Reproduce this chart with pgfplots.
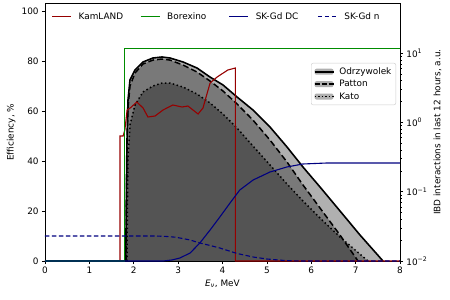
\documentclass[border=0pt]{standalone}
\usepackage{pgfplots}
\pgfplotsset{compat=1.18}
\usepackage{fontspec}
\setmainfont{DejaVu Sans}

\definecolor{kam}{RGB}{150,0,0}
\definecolor{bor}{RGB}{0,140,0}
\definecolor{skg}{RGB}{0,0,128}

\pgfplotstableread{
x y
1.820 0.01
1.836 0.148
1.848 0.557
1.870 2.10
1.915 4.09
2.028 5.70
2.208 7.45
2.434 8.50
2.637 8.79
2.817 8.50
3.110 7.45
3.425 6.10
3.718 4.52
4.011 3.47
4.327 2.33
4.687 1.51
5.070 0.859
5.454 0.442
5.814 0.227
6.197 0.117
6.648 0.0527
7.099 0.0237
7.617 0.01
}\odr

\pgfplotstableread{
x y
1.825 0.01
1.848 0.400
1.870 1.61
1.915 3.35
2.028 5.16
2.208 6.97
2.434 7.94
2.637 8.22
2.817 7.94
3.110 6.73
3.425 5.34
3.718 3.96
4.011 2.84
4.327 1.85
4.687 1.08
5.070 0.557
5.454 0.268
5.814 0.125
6.197 0.0582
6.648 0.0237
7.054 0.01
}\pat

\pgfplotstableread{
x y
1.848 0.01
1.859 0.0759
1.870 0.286
1.915 0.917
2.028 1.78
2.208 2.75
2.434 3.35
2.637 3.70
2.817 3.70
3.110 3.24
3.425 2.57
3.718 1.91
4.011 1.32
4.327 0.830
4.687 0.456
5.070 0.243
5.454 0.129
5.814 0.0734
6.197 0.0417
6.648 0.0222
7.279 0.01
}\kato

\pgfplotstableread{
x y
0 0
1.69 0
1.69 50
1.76 50
1.80 52.4
1.85 60.4
1.92 61.2
2.07 63.6
2.21 61.2
2.32 57.6
2.48 58
2.66 60.4
2.88 62.4
3.09 61.6
3.22 62
3.45 58.8
3.56 61.2
3.72 71.2
3.88 73.6
4.12 76.4
4.29 77.2
4.29 0
8 0
}\kamland

\pgfplotstableread{
x y
0 0
1.80 0
1.80 85
8 85
}\borexino

\pgfplotstableread{
x y
0 0
2.66 0
2.86 0.4
3.04 1.2
3.27 3.2
3.49 7.2
3.72 12.4
3.94 17.6
4.17 23.2
4.39 28.4
4.69 32.4
5.07 35.6
5.45 37.6
5.81 38.8
6.35 39.2
8 39.2
}\skdc

\pgfplotstableread{
x y
0 10
2.50 10
2.75 9.8
2.95 9.5
3.10 9.0
3.27 8.4
3.49 7.2
3.72 6.2
3.94 5.2
4.33 3.0
4.69 1.6
5.00 0.8
5.40 0.2
5.75 0
8 0
}\skn

\begin{document}
\fontsize{8.9pt}{10.7pt}\selectfont
\begin{tikzpicture}
\pgfplotsset{
  common/.style={width=355pt,height=257.5pt,scale only axis,xmin=0,xmax=8,
    at={(0pt,0pt)},anchor=south west,
    tick align=outside, major tick length=3.2pt, minor tick length=1.8pt,
    every tick/.style={black,line width=0.6pt},
    axis line style={line width=0.7pt},
    /pgf/number format/assume math mode=true,
    tick label style={font=\fontsize{8.9pt}{10.7pt}\selectfont},
    label style={font=\fontsize{8.9pt}{10.7pt}\selectfont},
    legend style={font=\fontsize{8.9pt}{10.7pt}\selectfont},
  },
}
\useasboundingbox (-45pt,-39pt) rectangle (405pt,261pt);

\begin{axis}[common,
  ymode=log, ymin=0.01, ymax=52,
  axis x line=none, axis y line*=right,
  ytick={0.01,0.1,1,10},
  yticklabels={10\textsuperscript{−2},10\textsuperscript{−1},10\textsuperscript{0},10\textsuperscript{1}},
  ylabel={IBD interactions in last 12 hours, a.u.},
  legend cell align=left,
  legend style={at={(0.989,0.769)}, anchor=north east, draw=gray!40,
    rounded corners=2pt, fill=white, row sep=0.5pt, inner sep=2.5pt,
    /tikz/every odd column/.style={column sep=3pt}},
]
\addplot[draw=none, fill=black, fill opacity=0.31, forget plot] table[x=x,y=y] {\odr};
\addplot[draw=none, fill=black, fill opacity=0.31, forget plot] table[x=x,y=y] {\pat};
\addplot[draw=none, fill=black, fill opacity=0.31, forget plot] table[x=x,y=y] {\kato};
\addplot[black, line width=1.6pt,
  legend image code/.code={\path[fill=black,fill opacity=0.31,draw=none] (0pt,-3pt) rectangle (19pt,3pt);
    \draw[black,line width=1.6pt] (0pt,0pt) -- (19pt,0pt);}] table[x=x,y=y] {\odr};
\addlegendentry{Odrzywolek}
\addplot[black, line width=1.5pt, dash pattern=on 6pt off 3pt,
  legend image code/.code={\path[fill=black,fill opacity=0.31,draw=none] (0pt,-3pt) rectangle (19pt,3pt);
    \draw[black,line width=1.5pt,dash pattern=on 5pt off 2pt] (0pt,0pt) -- (19pt,0pt);}] table[x=x,y=y] {\pat};
\addlegendentry{Patton}
\addplot[black, line width=1.5pt, dash pattern=on 1.5pt off 2.5pt,
  legend image code/.code={\path[fill=black,fill opacity=0.31,draw=none] (0pt,-3pt) rectangle (19pt,3pt);
    \draw[black,line width=1.5pt,dash pattern=on 1.5pt off 2pt] (0pt,0pt) -- (19pt,0pt);}] table[x=x,y=y] {\kato};
\addlegendentry{Kato}
\end{axis}

\begin{axis}[common,
  ymin=0, ymax=103, ytick={0,20,40,60,80,100}, xtick={0,1,2,3,4,5,6,7,8},
  ytick pos=left, xtick pos=bottom,
  xlabel={\textit{E}\textsubscript{\textit{ν}}, MeV}, ylabel={Efficiency, \%},
  legend columns=4,
  legend style={at={(0.5,1)}, anchor=north, draw=none, fill=none,
    inner xsep=8pt, inner ysep=6pt,
    nodes={inner sep=3pt},
    /tikz/every odd column/.style={column sep=4pt},
    /tikz/every even column/.style={column sep=0pt}},
]
\addplot[kam, line width=1.1pt,
  legend image code/.code={\draw[kam,line width=1.1pt] (0pt,0pt) -- (19pt,0pt);}] table[x=x,y=y] {\kamland};
\addlegendentry{\makebox[58.5pt][l]{KamLAND}}
\addplot[bor, line width=1.1pt,
  legend image code/.code={\draw[bor,line width=1.1pt] (0pt,0pt) -- (19pt,0pt);}] table[x=x,y=y] {\borexino};
\addlegendentry{\makebox[58.5pt][l]{Borexino}}
\addplot[skg, line width=1.1pt,
  legend image code/.code={\draw[skg,line width=1.1pt] (0pt,0pt) -- (19pt,0pt);}] table[x=x,y=y] {\skdc};
\addlegendentry{\makebox[58.5pt][l]{SK-Gd DC}}
\addplot[skg, line width=1.1pt, dash pattern=on 4.5pt off 2.5pt,
  legend image code/.code={\draw[skg,line width=1.1pt,dash pattern=on 4.5pt off 2.5pt] (0pt,0pt) -- (19pt,0pt);}] table[x=x,y=y] {\skn};
\addlegendentry{\makebox[46pt][l]{SK-Gd n}}
\end{axis}
\end{tikzpicture}
\end{document}
